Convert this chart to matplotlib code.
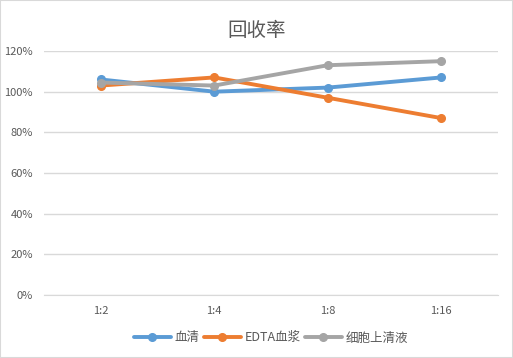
import matplotlib
matplotlib.use("Agg")
import matplotlib.pyplot as plt
from matplotlib.ticker import PercentFormatter

plt.rcParams['font.family'] = ['Noto Sans CJK SC', 'DejaVu Sans']

categories = ["1:2", "1:4", "1:8", "1:16"]
serum = [1.06, 1.00, 1.02, 1.07]
edta_plasma = [1.03, 1.07, 0.97, 0.87]
supernatant = [1.045, 1.03, 1.13, 1.15]

series = [
    ("血清", serum, "#5B9BD5"),
    ("EDTA血浆", edta_plasma, "#ED7D31"),
    ("细胞上清液", supernatant, "#A5A5A5"),
]

fig = plt.figure(figsize=(5.13, 3.58), dpi=100)
fig.patches.append(plt.Rectangle((0, 0), 1, 1, transform=fig.transFigure,
                                 fill=False, edgecolor="#D9D9D9", linewidth=1.5))
ax = fig.add_axes([44 / 513, 1 - 295 / 358, 454 / 513, 244 / 358])

x = [i + 0.5 for i in range(len(categories))]
for name, vals, color in series:
    ax.plot(x, vals, color=color, linewidth=2.8, marker="o", markersize=5.5,
            label=name, solid_capstyle="round")

ax.set_xlim(0, len(categories))
ax.set_ylim(0, 1.2)
ax.set_yticks([0, 0.2, 0.4, 0.6, 0.8, 1.0, 1.2])
ax.yaxis.set_major_formatter(PercentFormatter(1.0, decimals=0))
ax.set_xticks(x)
ax.set_xticklabels(categories)
ax.grid(axis="y", color="#D9D9D9", linewidth=1)
ax.set_axisbelow(True)
for s in ax.spines.values():
    s.set_visible(False)
ax.spines["bottom"].set_visible(True)
ax.spines["bottom"].set_color("#D9D9D9")
ax.tick_params(length=0, labelsize=8, colors="#595959", pad=8)

fig.text(0.5, 1 - 30 / 358, "回收率", ha="center", va="center",
         fontsize=14, color="#595959")

ax.legend(loc="center", bbox_to_anchor=(0.5, (295 - 338) / 244), ncol=3,
          frameon=False, fontsize=9, handlelength=3, columnspacing=0.3,
          handletextpad=0.3, labelcolor="#595959")

fig.savefig("out.png", dpi=100, facecolor="white")
